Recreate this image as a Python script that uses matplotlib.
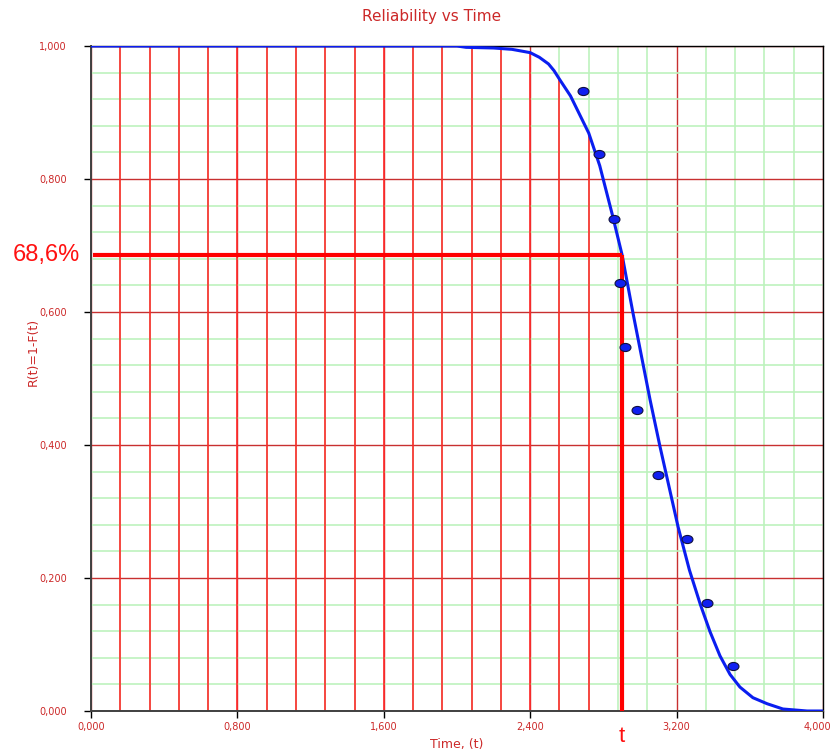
import numpy as np
import matplotlib.pyplot as plt
from matplotlib.ticker import MultipleLocator, FuncFormatter
from matplotlib.markers import MarkerStyle
from matplotlib.transforms import Affine2D

# fitted reliability curve (time in thousands)
curve_t = [0.000, 2.000, 2.050, 2.200, 2.300, 2.400, 2.450, 2.500, 2.530, 2.560, 2.620,
           2.720, 2.780, 2.850, 2.902, 2.962, 3.055, 3.109, 3.208, 3.270, 3.330,
           3.383, 3.437, 3.492, 3.546, 3.617, 3.694, 3.781, 3.913, 4.000]
curve_r = [1.000, 1.000, 0.998, 0.997, 0.995, 0.990, 0.983, 0.973, 0.963, 0.950, 0.925,
           0.869, 0.820, 0.745, 0.686, 0.598, 0.468, 0.398, 0.277, 0.212, 0.160,
           0.119, 0.083, 0.055, 0.036, 0.020, 0.011, 0.003, 0.000, 0.000]

# data points
point_t = [2.687, 2.776, 2.858, 2.891, 2.918, 2.984, 3.098, 3.257, 3.366, 3.508]
point_r = [0.933, 0.837, 0.740, 0.644, 0.548, 0.452, 0.355, 0.259, 0.163, 0.067]

# read-off value
read_t = 2.902
read_r = 0.686
read_label = '68,6%'

label_red = '#cc2828'


def comma_fmt(v, p=None):
    return f'{v:.3f}'.replace('.', ',')


fig = plt.figure(figsize=(8.34, 7.56), dpi=100)
ax = fig.add_axes([91 / 834, 45 / 756, 732 / 834, 665 / 756])

ax.set_xlim(0, 4)
ax.set_ylim(0, 1)
ax.xaxis.set_major_locator(MultipleLocator(0.8))
ax.xaxis.set_minor_locator(MultipleLocator(0.16))
ax.yaxis.set_major_locator(MultipleLocator(0.2))
ax.yaxis.set_minor_locator(MultipleLocator(0.04))
# last x label is drawn separately so it stays on the canvas
ax.xaxis.set_major_formatter(FuncFormatter(lambda v, p: '' if v > 3.99 else comma_fmt(v)))
ax.yaxis.set_major_formatter(FuncFormatter(comma_fmt))

ax.set_axisbelow(True)
ax.grid(which='minor', color='#bdf2bd', lw=1.2)
ax.grid(which='major', color='#c83030', lw=1.0)

# red lines from the axis up to the curve at each minor step
minor_t = np.arange(1, 18) * 0.16
ax.vlines(minor_t, 0, np.interp(minor_t, curve_t, curve_r), color='#ff2a2a', lw=1.2, zorder=2)

ax.plot(curve_t, curve_r, color='#0a1ef0', lw=2.2, zorder=3)

# read-off lines
ax.plot([0.01, read_t], [read_r, read_r], color='#ff0000', lw=3, zorder=4, solid_capstyle='butt')
ax.plot([read_t, read_t], [read_r, 0], color='#ff0000', lw=3, zorder=4, solid_capstyle='butt')

ellipse = MarkerStyle('o', transform=Affine2D().scale(1.35, 1.0))
ax.scatter(point_t, point_r, marker=ellipse, s=34, color='#1020f0', edgecolors='#101040',
           linewidths=0.8, zorder=5)

ax.tick_params(which='minor', length=0)
ax.tick_params(which='major', length=5, width=1, color='black', labelsize=7, labelcolor=label_red)
ax.tick_params(axis='y', pad=12.5)
ax.tick_params(axis='x', pad=3)
for side in ['left', 'bottom']:
    ax.spines[side].set_color('#404040')
    ax.spines[side].set_linewidth(1.4)
for side in ['top', 'right']:
    ax.spines[side].set_color('black')
    ax.spines[side].set_linewidth(1.0)

fig.text(831 / 834, 1 - 727 / 756, comma_fmt(4.0), ha='right', va='center', fontsize=7, color=label_red)

fig.text(432 / 834, 1 - 17 / 756, 'Reliability vs Time', ha='center', va='center', fontsize=11, color=label_red)
ax.set_xlabel('Time, (t)', fontsize=9, color=label_red, labelpad=4)
fig.text(33 / 834, 1 - 352 / 756, 'R(t)=1-F(t)', rotation=90, ha='center', va='center',
         fontsize=9, color=label_red)

ax.text(-0.015, read_r, read_label, transform=ax.get_yaxis_transform(), ha='right', va='center',
        fontsize=17, color='#ff1010', family='Liberation Sans')
ax.text(read_t, -0.039, 't', transform=ax.get_xaxis_transform(), ha='center', va='center',
        fontsize=16, color='#ff1010', family='Liberation Sans')

fig.savefig('out.png', dpi=100)
